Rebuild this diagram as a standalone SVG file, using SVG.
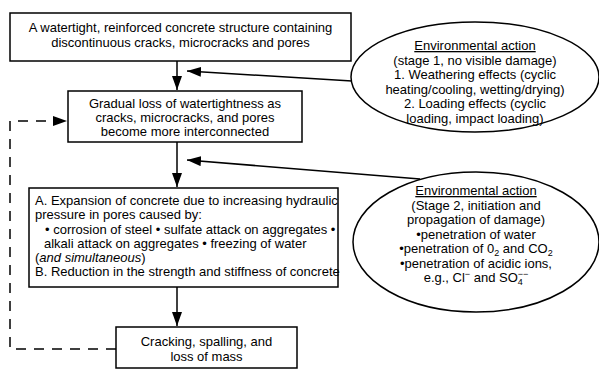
<svg xmlns="http://www.w3.org/2000/svg" width="599" height="369" viewBox="0 0 599 369">
<defs>
<style>
.box{fill:#fff;stroke:#000;stroke-width:1.5}
.ell{fill:#fff;stroke:#000;stroke-width:1.5}
.t{font-family:"Liberation Sans",Arial,sans-serif;font-size:13px;fill:#000}
.c{text-anchor:middle}
.ln{stroke:#000;stroke-width:1.5;fill:none}
.dash{stroke:#000;stroke-width:1.5;fill:none;stroke-dasharray:10 8}
</style>
<marker id="ah" viewBox="0 0 14 10" refX="14" refY="5" markerWidth="14" markerHeight="10" markerUnits="userSpaceOnUse" orient="auto">
<path d="M0,0 L14,5 L0,10 Z" fill="#000"/>
</marker>
</defs>
<rect width="599" height="369" fill="#fff"/>
<g id="connectors">
<line class="ln" x1="177" y1="61" x2="177" y2="90" marker-end="url(#ah)"/>
<line class="ln" x1="177" y1="142" x2="177" y2="187" marker-end="url(#ah)"/>
<line class="ln" x1="177" y1="287" x2="177" y2="326" marker-end="url(#ah)"/>
<line class="ln" x1="352" y1="81" x2="187" y2="71" marker-end="url(#ah)"/>
<line class="ln" x1="420" y1="179" x2="187" y2="160" marker-end="url(#ah)"/>
<polyline class="dash" points="116,349 10,349 10,121 67,121" marker-end="url(#ah)"/>
</g>
<g id="n1">
<rect class="box" x="10" y="13" width="341" height="48"/>
<text class="t c" x="180.5" y="32">A watertight, reinforced concrete structure containing</text>
<text class="t c" x="180.5" y="47">discontinuous cracks, microcracks and pores</text>
</g>
<g id="n2">
<rect class="box" x="68" y="91" width="234" height="51"/>
<text class="t c" x="185" y="108">Gradual loss of watertightness as</text>
<text class="t c" x="185" y="122">cracks, microcracks, and pores</text>
<text class="t c" x="185" y="136">become more interconnected</text>
</g>
<g id="n3">
<rect class="box" x="29" y="188" width="309" height="99"/>
<text class="t" x="35" y="205">A. Expansion of concrete due to increasing hydraulic</text>
<text class="t" x="35" y="219">pressure in pores caused by:</text>
<text class="t" x="45" y="234">• corrosion of steel • sulfate attack on aggregates •</text>
<text class="t" x="44" y="248">alkali attack on aggregates • freezing of water</text>
<text class="t" x="35" y="262">(<tspan font-style="italic">and simultaneous</tspan>)</text>
<text class="t" x="35" y="276">B. Reduction in the strength and stiffness of concrete</text>
</g>
<g id="n4">
<rect class="box" x="116" y="327" width="181" height="41"/>
<text class="t c" x="206.5" y="346">Cracking, spalling, and</text>
<text class="t c" x="206.5" y="361">loss of mass</text>
</g>
<g id="e1">
<ellipse class="ell" cx="475" cy="77" rx="124" ry="55"/>
<text class="t c" x="475" y="50" text-decoration="underline">Environmental action</text>
<text class="t c" x="475" y="64.5">(stage 1, no visible damage)</text>
<text class="t c" x="475" y="79">1. Weathering effects (cyclic</text>
<text class="t c" x="475" y="93.5">heating/cooling, wetting/drying)</text>
<text class="t c" x="475" y="108">2. Loading effects (cyclic</text>
<text class="t c" x="475" y="122.5">loading, impact loading)</text>
</g>
<g id="e2">
<ellipse class="ell" cx="476" cy="242" rx="123" ry="70"/>
<text class="t c" x="476" y="195" text-decoration="underline">Environmental action</text>
<text class="t c" x="476" y="209.5">(Stage 2, initiation and</text>
<text class="t c" x="476" y="224">propagation of damage)</text>
<text class="t c" x="476" y="238.5">•penetration of water</text>
<text class="t c" x="476" y="253">•penetration of 0<tspan font-size="9" dy="3">2</tspan><tspan dy="-3"> and CO</tspan><tspan font-size="9" dy="3">2</tspan></text>
<text class="t c" x="476" y="267.5">•penetration of acidic ions,</text>
<text class="t c" x="476" y="282">e.g., Cl<tspan font-size="9" dy="-5">−</tspan><tspan dy="5"> and SO</tspan><tspan font-size="9" dy="3">4</tspan><tspan font-size="9" dx="-5" dy="-8">−−</tspan></text>
</g>
</svg>
